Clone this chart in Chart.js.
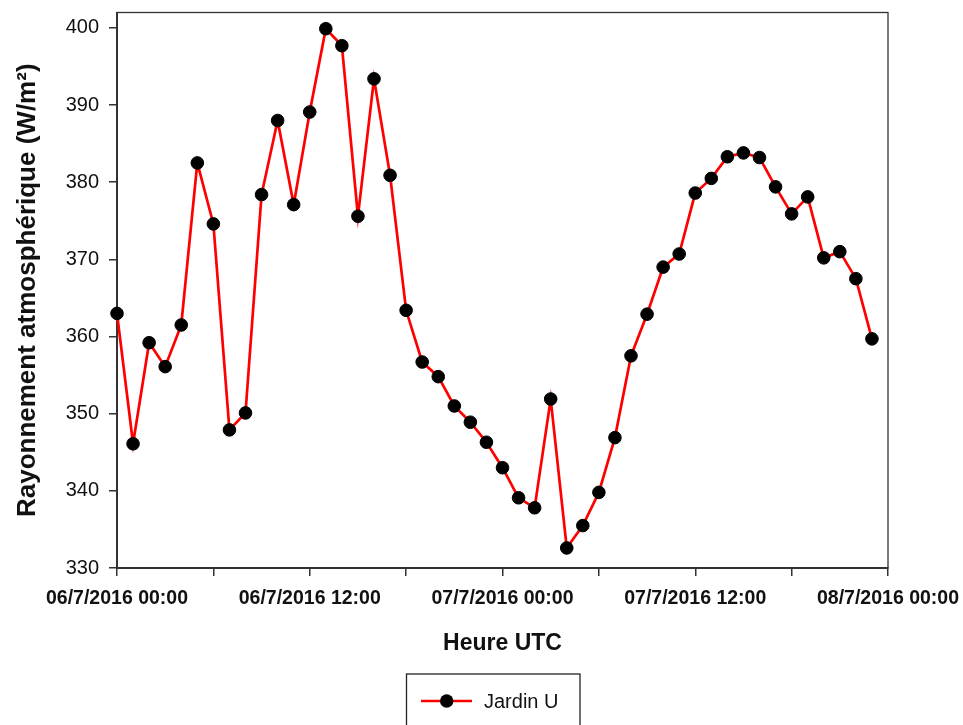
<!DOCTYPE html>
<html>
<head>
<meta charset="utf-8">
<script src="https://cdn.jsdelivr.net/npm/chart.js@4"></script>
<style>
  body { margin: 0; background: #fff; }
</style>
</head>
<body>
<canvas id="chart" width="963" height="725"></canvas>
<script>
const seriesLabel = 'Jardin U';

// hourly values, starting 06/7/2016 00:00 UTC
const radiation = [
  363.0, 346.1, 359.2, 356.1, 361.5, 382.5, 374.6, 347.9, 350.1, 378.4,
  388.0, 377.1, 389.1, 399.9, 397.7, 375.6, 393.4, 380.9, 363.4, 356.7,
  354.8, 351.0, 348.9, 346.3, 343.0, 339.1, 337.8, 351.9, 332.6, 335.5,
  339.8, 346.9, 357.5, 362.9, 369.0, 370.7, 378.6, 380.5, 383.3, 383.8,
  383.2, 379.4, 375.9, 378.1, 370.2, 371.0, 367.5, 359.7,
];

const tickHours = [0, 12, 24, 36, 48];
const tickLabels = [
  '06/7/2016 00:00',
  '06/7/2016 12:00',
  '07/7/2016 00:00',
  '07/7/2016 12:00',
  '08/7/2016 00:00',
];

const font = 'Liberation Sans';
const canvas = document.getElementById('chart');

// top and right sides of the plot box
const framePlugin = {
  id: 'frame',
  beforeDatasetsDraw(chart) {
    const { ctx, chartArea: a } = chart;
    ctx.save();
    ctx.strokeStyle = '#333';
    ctx.lineWidth = 1.3;
    ctx.strokeRect(a.left, a.top, a.right - a.left, a.bottom - a.top);
    ctx.restore();
  },
};

// boxed legend under the x title
const legendPlugin = {
  id: 'boxLegend',
  afterDraw(chart) {
    const { ctx } = chart;
    const dataset = chart.data.datasets[0];
    ctx.save();
    ctx.strokeStyle = '#222';
    ctx.lineWidth = 1.3;
    ctx.strokeRect(406.5, 674, 173.5, 80);
    ctx.strokeStyle = dataset.borderColor;
    ctx.lineWidth = dataset.borderWidth;
    ctx.beginPath();
    ctx.moveTo(421, 701);
    ctx.lineTo(472, 701);
    ctx.stroke();
    ctx.fillStyle = dataset.pointBackgroundColor;
    ctx.beginPath();
    ctx.arc(446.7, 701, 6.7, 0, Math.PI * 2);
    ctx.fill();
    ctx.fillStyle = '#111';
    ctx.font = `20px "${font}"`;
    ctx.textBaseline = 'middle';
    ctx.fillText(dataset.label, 484, 702);
    ctx.restore();
  },
};

new Chart(canvas, {
  type: 'line',
  data: {
    datasets: [
      {
        label: seriesLabel,
        data: radiation.map((value, hour) => ({ x: hour, y: value })),
        borderColor: '#ff0000',
        borderWidth: 2.7,
        pointBackgroundColor: '#000',
        pointBorderColor: '#000',
        pointBorderWidth: 1,
        pointRadius: 6.3,
        tension: 0,
        clip: false,
      },
    ],
  },
  options: {
    responsive: false,
    animation: false,
    layout: {
      padding: { top: 12.5, right: 75, bottom: 60, left: 0 },
    },
    plugins: {
      legend: { display: false },
      tooltip: { enabled: false },
    },
    scales: {
      x: {
        type: 'linear',
        min: 0,
        max: 48,
        afterFit: (scale) => {
          scale.height = 97;
          scale.paddingLeft = 0;
          scale.paddingRight = 0;
        },
        border: { display: true, color: '#333', width: 2 },
        grid: {
          drawOnChartArea: false,
          drawTicks: true,
          tickLength: 8,
          color: '#333',
          lineWidth: 1.5,
        },
        ticks: {
          stepSize: 6,
          autoSkip: false,
          maxRotation: 0,
          padding: 11,
          color: '#111',
          font: { family: font, size: 19.5, weight: 'bold' },
          callback: (value) => {
            const i = tickHours.indexOf(value);
            return i >= 0 ? tickLabels[i] : '';
          },
        },
        title: {
          display: true,
          text: 'Heure UTC',
          color: '#111',
          font: { family: font, size: 23, weight: 'bold' },
          padding: { top: 0, bottom: 8 },
        },
      },
      y: {
        min: 330,
        max: 402,
        afterFit: (scale) => {
          scale.width = 117;
          scale.paddingTop = 0;
          scale.paddingBottom = 0;
        },
        border: { display: true, color: '#333', width: 2 },
        grid: {
          drawOnChartArea: false,
          drawTicks: true,
          tickLength: 8,
          color: '#333',
          lineWidth: 1.5,
        },
        ticks: {
          stepSize: 10,
          includeBounds: false,
          padding: 10,
          color: '#111',
          font: { family: font, size: 20 },
        },
        title: {
          display: true,
          text: 'Rayonnement atmosphérique (W/m²)',
          color: '#111',
          font: { family: font, size: 26, weight: 'bold' },
          padding: { top: 12, bottom: 0 },
        },
      },
    },
  },
  plugins: [framePlugin, legendPlugin],
});
</script>
</body>
</html>
